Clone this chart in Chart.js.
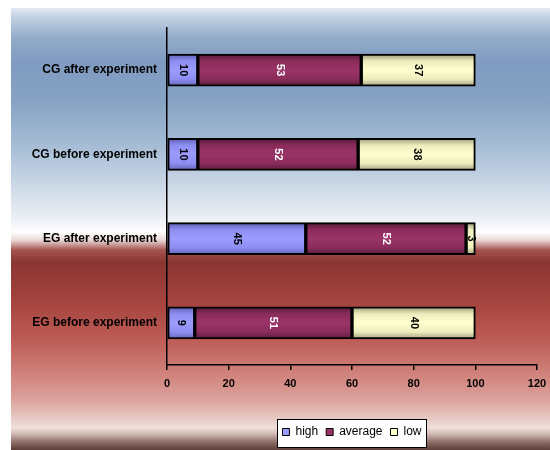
<!DOCTYPE html>
<html>
<head>
<meta charset="utf-8">
<script src="https://cdn.jsdelivr.net/npm/chart.js@4/dist/chart.umd.min.js"></script>
<style>
  html, body { margin: 0; padding: 0; background: #ffffff; }
  #wrap { width: 550px; height: 450px; }
</style>
</head>
<body>
<div id="wrap"><canvas id="c" width="550" height="450"></canvas></div>
<script>
// Categories listed top to bottom
const categories = ['CG after experiment', 'CG before experiment', 'EG after experiment', 'EG before experiment'];
const seriesNames = ['high', 'average', 'low'];
const highValues = [10, 10, 45, 9];
const averageValues = [53, 52, 52, 51];
const lowValues = [37, 38, 3, 40];
const xTickValues = [0, 20, 40, 60, 80, 100, 120];

const FONT = '"Liberation Sans", Arial, sans-serif';
const flatColors = ['#9999ff', '#993366', '#ffffcc'];
const labelColors = ['#000000', '#ffffff', '#000000'];
const shadeStops = [
  [[0, '#5e5eb4'], [0.22, '#8e8ef2'], [0.5, '#9c9cff'], [0.78, '#8e8ef2'], [1, '#6666bb']],
  [[0, '#561a38'], [0.22, '#8a2c5b'], [0.5, '#9b3468'], [0.78, '#8a2c5b'], [1, '#5c1d3d']],
  [[0, '#9a9a7c'], [0.22, '#ececbc'], [0.5, '#ffffcf'], [0.78, '#ececbc'], [1, '#a2a282']]
];
const BAR_THICKNESS = 32;

// vertical shading inside each bar, computed from the category scale
function barFill(idx) {
  return (ctx) => {
    if (ctx.type !== 'data') return flatColors[idx];
    const chart = ctx.chart;
    const y = chart.scales && chart.scales.y;
    if (!y || !chart.chartArea) return flatColors[idx];
    const yc = y.getPixelForValue(ctx.dataIndex);
    const g = chart.ctx.createLinearGradient(0, yc - BAR_THICKNESS / 2, 0, yc + BAR_THICKNESS / 2);
    shadeStops[idx].forEach(([o, c]) => g.addColorStop(o, c));
    return g;
  };
}

// backdrop: blue sky fading to white, then deep red fading to pale and a dark foot
const backdrop = {
  id: 'backdrop',
  beforeDraw(chart) {
    const c = chart.ctx;
    const x0 = 11, y0 = 8, x1 = 550, y1 = 450;
    const h = y1 - y0;
    const g = c.createLinearGradient(0, y0, 0, y1);
    const stops = [
      [8, '#e2e9f2'], [16, '#c6d4e5'], [38, '#92abca'], [62, '#7f9bc0'],
      [100, '#86a2c4'], [150, '#a9bfd7'], [190, '#cfdbe8'], [218, '#ebeff5'],
      [232, '#ffffff'], [240, '#ead9d7'], [250, '#a65450'], [262, '#8a3531'],
      [300, '#a4433e'], [340, '#be5c56'], [375, '#d1837d'], [400, '#dca29d'],
      [418, '#e7c9c4'], [428, '#eedfdb'], [435, '#c9b1ab'], [442, '#8f6f69'], [450, '#5c3c37']
    ];
    stops.forEach(([y, col]) => g.addColorStop((y - y0) / h, col));
    c.save();
    c.fillStyle = g;
    c.fillRect(x0, y0, x1 - x0, y1 - y0);

    // white framed panel behind the legend row
    const lg = chart.legend;
    if (lg && lg.lineWidths) {
      const pad = lg.options.labels.padding;
      const L = lg.lineWidths[0];
      const startX = (lg.left + pad + lg.right - L) / 2;
      const bx = Math.round(startX - 5) + 0.5;
      const bw = Math.round(L - pad + 10);
      const by = Math.round(lg.top + 1) + 0.5;
      const bh = Math.round(lg.height - 2);
      c.fillStyle = '#ffffff';
      c.fillRect(bx, by, bw, bh);
      c.strokeStyle = '#000000';
      c.lineWidth = 1;
      c.strokeRect(bx, by, bw, bh);
    }
    c.restore();
  }
};

// center the legend row under the plot area
const legendUnderPlot = {
  id: 'legendUnderPlot',
  afterLayout(chart) {
    const lg = chart.legend, ca = chart.chartArea;
    if (!lg) return;
    lg.left = ca.left;
    lg.right = ca.right;
    lg.width = ca.right - ca.left;
  }
};

// rotated value labels inside each segment
const valueLabels = {
  id: 'valueLabels',
  afterDatasetsDraw(chart) {
    const c = chart.ctx;
    chart.data.datasets.forEach((ds, di) => {
      const meta = chart.getDatasetMeta(di);
      meta.data.forEach((el, i) => {
        const p = el.getCenterPoint();
        c.save();
        c.translate(p.x, p.y);
        c.rotate(Math.PI / 2);
        c.font = 'bold 11px ' + FONT;
        c.fillStyle = labelColors[di];
        c.textAlign = 'center';
        c.textBaseline = 'middle';
        c.fillText(String(ds.data[i]), 0, 0);
        c.restore();
      });
    });
  }
};

const seriesValues = [highValues, averageValues, lowValues];

new Chart(document.getElementById('c'), {
  type: 'bar',
  data: {
    labels: categories,
    datasets: seriesNames.map((name, i) => ({
      label: name,
      data: seriesValues[i],
      backgroundColor: barFill(i),
      borderColor: '#000000',
      borderWidth: 2,
      borderSkipped: false,
      barThickness: BAR_THICKNESS
    }))
  },
  options: {
    indexAxis: 'y',
    responsive: false,
    animation: false,
    devicePixelRatio: 1,
    layout: { padding: { top: 28, right: 13, bottom: 2, left: 0 } },
    scales: {
      x: {
        stacked: true,
        min: 0,
        max: 120,
        afterBuildTicks(scale) { scale.ticks = xTickValues.map(v => ({ value: v })); },
        afterFit(scale) { scale.height = 53; scale.paddingRight = 0; scale.paddingLeft = 0; },
        ticks: { color: '#000000', font: { family: FONT, size: 11, weight: 'bold' }, padding: 7, maxRotation: 0 },
        grid: { drawOnChartArea: false, drawTicks: true, tickLength: 5, color: '#000000', lineWidth: 1.5 },
        border: { display: true, color: '#000000', width: 1.5 }
      },
      y: {
        stacked: true,
        afterFit(scale) { scale.width = 167; },
        ticks: { color: '#000000', font: { family: FONT, size: 12, weight: 'bold' }, padding: 10 },
        grid: { display: false, drawTicks: false },
        border: { display: true, color: '#000000', width: 1.5 }
      }
    },
    plugins: {
      tooltip: { enabled: false },
      legend: {
        position: 'bottom',
        labels: {
          color: '#000000',
          font: { family: FONT, size: 12 },
          boxWidth: 7,
          boxHeight: 7,
          padding: 8,
          generateLabels(chart) {
            const items = Chart.defaults.plugins.legend.labels.generateLabels(chart);
            items.forEach((it, i) => {
              it.fillStyle = flatColors[i];
              it.strokeStyle = '#000000';
              it.lineWidth = 1;
            });
            return items;
          }
        }
      }
    }
  },
  plugins: [backdrop, legendUnderPlot, valueLabels]
});
</script>
</body>
</html>
